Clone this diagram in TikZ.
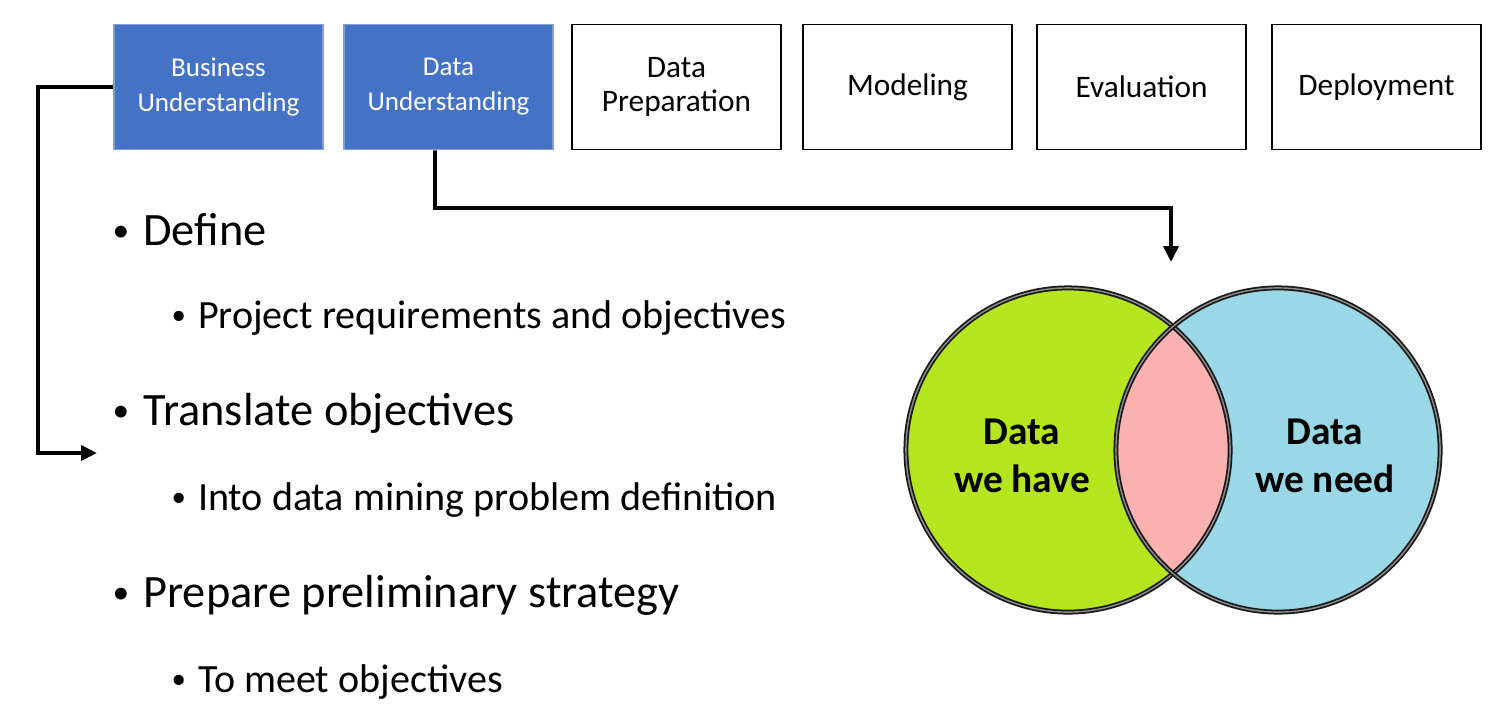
\documentclass[tikz,border=0pt]{standalone}
\usepackage{fontspec}
\setmainfont{Carlito}
\usetikzlibrary{arrows.meta}
\definecolor{phaseblue}{HTML}{4472C4}
\definecolor{phaseedge}{HTML}{7F9FD6}
\definecolor{havegreen}{HTML}{B5E51E}
\definecolor{needblue}{HTML}{9AD8E8}
\definecolor{lenspink}{HTML}{FBB1B0}
\newcommand{\smallbul}{\raisebox{0.08em}{\scalebox{0.72}{•}}}
\begin{document}
\begin{tikzpicture}[x=0.01cm,y=-0.01cm,
  phase/.style={draw=black,line width=0.5pt,minimum width=2.09cm,minimum height=1.25cm,align=center,inner sep=0pt,font=\fontsize{8.9pt}{9.9pt}\selectfont},
  phaseon/.style={phase,fill=phaseblue,draw=phaseedge,text=white,font=\fontsize{7.7pt}{9.9pt}\selectfont},
  lvlone/.style={anchor=base west,inner sep=0pt,font=\fontsize{13.2pt}{15pt}\selectfont},
  lvltwo/.style={anchor=base west,inner sep=0pt,font=\fontsize{11.4pt}{13pt}\selectfont},
  conn/.style={line width=1.1pt,-{Triangle[length=4.5pt,width=4.2pt]}},
  vennline/.style={draw=black!90,line width=0.5pt,double=black!45,double distance=0.4pt},
  venntxt/.style={align=center,font=\bfseries\fontsize{11.2pt}{13.5pt}\selectfont}
]
\useasboundingbox (0,0) rectangle (1507,706);

% phases
\node[phaseon] (bu) at (218.5,87) {Business\\Understanding};
\node[phaseon] (du) at (448.5,87) {Data\\Understanding};
\node[phase] (dp) at (676.5,87) {Data\\Preparation};
\node[phase] (mo) at (907.5,87) {Modeling};
\node[phase] (ev) at (1141.5,87) {Evaluation};
\node[phase] (de) at (1376.5,87) {Deployment};

% bullets
\node[lvlone] (b1) at (112,245) {\smallbul\hskip 0.14cm Define};
\node[lvltwo] (b1a) at (171,328) {\smallbul\hskip 0.12cm Project requirements and objectives};
\node[lvlone] (b2) at (112,425) {\smallbul\hskip 0.14cm Translate objectives};
\node[lvltwo] (b2a) at (171,510) {\smallbul\hskip 0.12cm Into data mining problem definition};
\node[lvlone] (b3) at (112,607) {\smallbul\hskip 0.14cm Prepare preliminary strategy};
\node[lvltwo] (b3a) at (171,692) {\smallbul\hskip 0.12cm To meet objectives};

% connectors
\coordinate (t1) at (97,453);
\coordinate (t2) at (1171,262);
\draw[conn] (bu.west) -- (38,87) -- (38,453) -- (t1);
\draw[conn] ([xshift=-0.135cm]du.south) -- (435,208) -- (1171,208) -- (t2);

% venn
\coordinate (cl) at (1068,450);
\coordinate (cr) at (1278,450);
\fill[havegreen] (cl) circle[radius=1.62cm];
\fill[needblue] (cr) circle[radius=1.62cm];
\begin{scope}
  \clip (cl) circle[radius=1.62cm];
  \fill[lenspink] (cr) circle[radius=1.62cm];
\end{scope}
\draw[vennline] (cl) circle[radius=1.62cm];
\draw[vennline] (cr) circle[radius=1.62cm];
\node[venntxt] (have) at (1022,456) {Data\\we have};
\node[venntxt] (need) at (1325,456) {Data\\we need};
\end{tikzpicture}
\end{document}
